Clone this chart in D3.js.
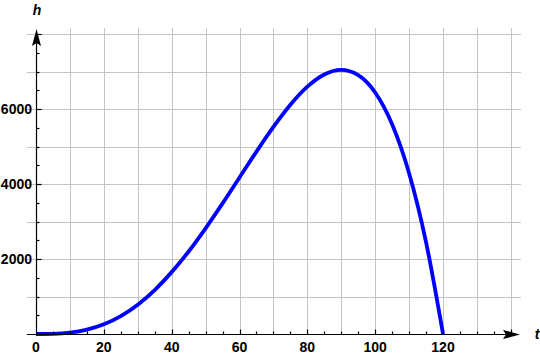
<!DOCTYPE html>
<html>
<head>
<meta charset="utf-8">
<script src="https://cdn.jsdelivr.net/npm/d3@7"></script>
<style>
  body { margin: 0; background: #fff; }
  svg { display: block; }
</style>
</head>
<body>
<div id="chart-container"></div>
<script>
// values
const tValues = [0, 5, 10, 15, 20, 25, 30, 35, 40, 45, 50, 55, 60,
  65, 70, 75, 80, 85, 90, 95, 100, 105, 110, 115, 120];
const hValues = [0, 5, 35, 115, 258, 478, 782, 1173, 1650, 2200, 2818, 3482, 4173,
  4864, 5522, 6113, 6595, 6921, 7042, 6902, 6440, 5591, 4286, 2449, 0];
const xTickLabels = [0, 20, 40, 60, 80, 100, 120];
const yTickLabels = [2000, 4000, 6000];

const width = 540;
const height = 357;

// plot frame (grid region)
const frameLeft = 27, frameRight = 521, frameTop = 28;

const x = d3.scaleLinear().domain([0, 120]).range([36, 443]);
const y = d3.scaleLinear().domain([0, 8000]).range([334, 34]);

const svg = d3.create("svg")
  .attr("width", width)
  .attr("height", height)
  .attr("style", "font-family: 'Liberation Sans', Arial, sans-serif;");

document.getElementById("chart-container").appendChild(svg.node());

// grid lines
const grid = svg.append("g").attr("stroke", "#c4c4c4").attr("stroke-width", 1);
grid.selectAll("line.v")
  .data(d3.range(10, 141, 10))
  .join("line")
  .attr("x1", d => Math.round(x(d)) + 0.5)
  .attr("x2", d => Math.round(x(d)) + 0.5)
  .attr("y1", frameTop)
  .attr("y2", y(0));
grid.selectAll("line.h")
  .data(d3.range(1000, 8001, 1000))
  .join("line")
  .attr("x1", frameLeft)
  .attr("x2", frameRight)
  .attr("y1", d => Math.round(y(d)) + 0.5)
  .attr("y2", d => Math.round(y(d)) + 0.5);

// the curve
const line = d3.line()
  .x((d, i) => x(tValues[i]))
  .y(d => y(d))
  .curve(d3.curveMonotoneX);

svg.append("path")
  .datum(hValues)
  .attr("fill", "none")
  .attr("stroke", "#0000ff")
  .attr("stroke-width", 3.8)
  .attr("d", line);

// axes
const ax = svg.append("g").attr("stroke", "#000").attr("stroke-width", 1.2);
const y0 = Math.round(y(0)) + 0.5;
const x0 = Math.round(x(0)) + 0.5;

ax.append("line").attr("x1", frameLeft).attr("x2", 508).attr("y1", y0).attr("y2", y0);
ax.append("line").attr("x1", x0).attr("x2", x0).attr("y1", y0 + 1).attr("y2", 42);

// arrow heads
svg.append("path")
  .attr("fill", "#000")
  .attr("d", `M520,${y0} L503,${y0 - 4.5} L506,${y0} L503,${y0 + 4.5} Z`);
svg.append("path")
  .attr("fill", "#000")
  .attr("d", `M${x0},29 L${x0 - 4.5},46 L${x0},43 L${x0 + 4.5},46 Z`);

// ticks on the x axis
ax.selectAll("line.xt")
  .data(d3.range(5, 141, 5))
  .join("line")
  .attr("x1", d => Math.round(x(d)) + 0.5)
  .attr("x2", d => Math.round(x(d)) + 0.5)
  .attr("y1", y0)
  .attr("y2", d => y0 - (d % 20 === 0 ? 5 : 3));

// ticks on the y axis
ax.selectAll("line.yt")
  .data(d3.range(500, 8001, 500))
  .join("line")
  .attr("x1", x0)
  .attr("x2", d => x0 + (d % 2000 === 0 ? 5 : 3))
  .attr("y1", d => Math.round(y(d)) + 0.5)
  .attr("y2", d => Math.round(y(d)) + 0.5);

// tick labels
svg.append("g")
  .selectAll("text")
  .data(xTickLabels)
  .join("text")
  .attr("x", d => x(d))
  .attr("y", 352)
  .attr("text-anchor", "middle")
  .attr("font-size", 14)
  .attr("font-weight", "bold")
  .text(d => d);

svg.append("g")
  .selectAll("text")
  .data(yTickLabels)
  .join("text")
  .attr("x", 32)
  .attr("y", d => y(d) + 5)
  .attr("text-anchor", "end")
  .attr("font-size", 14)
  .attr("font-weight", "bold")
  .text(d => d);

// axis titles
svg.append("text")
  .attr("x", 37)
  .attr("y", 15)
  .attr("text-anchor", "middle")
  .attr("font-size", 14)
  .attr("font-weight", "bold")
  .attr("font-style", "italic")
  .text("h");

svg.append("text")
  .attr("x", 537)
  .attr("y", 339)
  .attr("text-anchor", "middle")
  .attr("font-size", 14)
  .attr("font-weight", "bold")
  .attr("font-style", "italic")
  .text("t");
</script>
</body>
</html>
